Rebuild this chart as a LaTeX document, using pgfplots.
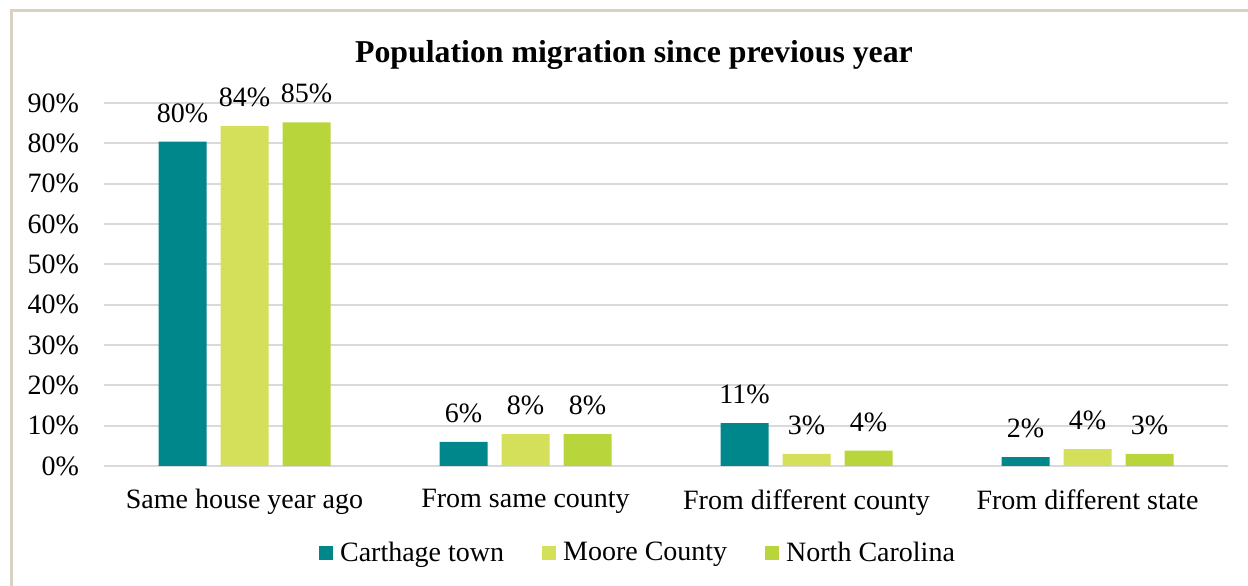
\documentclass[border=0pt]{standalone}
\usepackage{pgfplots}
\pgfplotsset{compat=1.18}
\usepackage{fontspec}
\setmainfont{Liberation Serif}
\newfontfamily\tnr{Liberation Serif}
\definecolor{cteal}{RGB}{0,135,140}
\definecolor{cmoore}{RGB}{212,223,90}
\definecolor{cnc}{RGB}{184,214,60}
\definecolor{cborder}{RGB}{217,210,195}
\definecolor{cgrid}{RGB}{217,217,217}
\begin{document}
\begin{tikzpicture}
\useasboundingbox (0,0) rectangle (624bp,293bp);
\draw[cborder, line width=1.5bp] (5.5bp,-5bp) -- (5.5bp,287.5bp) -- (630bp,287.5bp);
\node[font=\tnr\fontsize{15.9bp}{18bp}\selectfont\bfseries] at (317bp,265.5bp) {Population migration since previous year};
\begin{axis}[
  at={(52bp,60bp)}, anchor=south west,
  scale only axis, width=562bp, height=181.5bp,
  xmin=-0.5, xmax=3.5, ymin=0, ymax=90,
  ybar=7bp, bar width=24bp,
  axis line style={draw=none},
  tick style={draw=none},
  ymajorgrids, grid style={cgrid, line width=1bp},
  ytick={0,10,...,90},
  yticklabel={\pgfmathprintnumber{\tick}\%},
  xtick={0,1,2,3},
  xticklabels={Same house year ago, From same county, From different county, From different state},
  /pgf/number format/assume math mode=true,
  ticklabel style={font=\tnr\fontsize{14bp}{16bp}\selectfont},
  yticklabel style={xshift=-9bp},
  xticklabel style={yshift=-4bp},
  nodes near coords={\pgfmathprintnumber[fixed,precision=0]{\pgfplotspointmeta}\%},
  every node near coord/.append style={font=\tnr\fontsize{14bp}{16bp}\selectfont, black, yshift=6bp},
  legend style={at={(0.476,-0.24)}, anchor=center, draw=none, fill=none,
    legend columns=-1, font=\tnr\fontsize{14bp}{16bp}\selectfont,
    /tikz/every even column/.append style={column sep=17bp}},
  legend image code/.code={\path[#1, draw=none] (0bp,-3.5bp) rectangle (7bp,3.5bp);},
]
\addplot[fill=cteal, draw=none] coordinates {(0,80.4) (1,6.0) (2,10.6) (3,2.2)};
\addplot[fill=cmoore, draw=none] coordinates {(0,84.3) (1,7.9) (2,3.0) (3,4.2)};
\addplot[fill=cnc, draw=none] coordinates {(0,85.2) (1,7.9) (2,3.8) (3,3.0)};
\legend{\hspace{1.5bp}Carthage town, \hspace{1.5bp}Moore County, \hspace{1.5bp}North Carolina}
\end{axis}
\end{tikzpicture}
\end{document}
